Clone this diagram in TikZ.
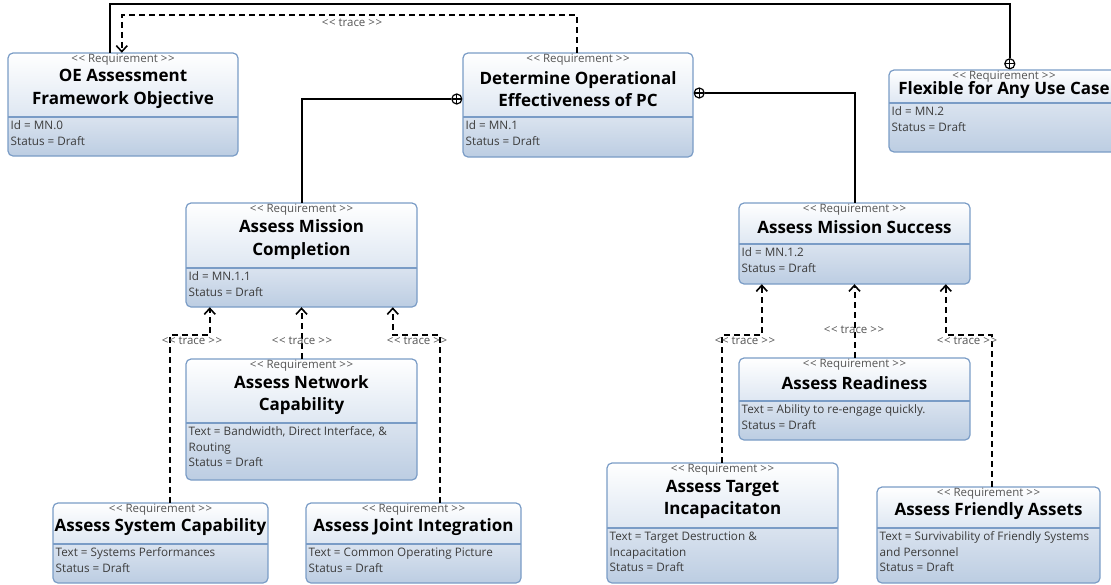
\documentclass[tikz,border=0pt]{standalone}
\usepackage{fontspec}
\setmainfont{Open Sans}
\usetikzlibrary{arrows.meta,fit,calc}
\definecolor{boxline}{RGB}{122,156,198}
\definecolor{hdrbot}{RGB}{222,231,242}
\definecolor{bodytop}{RGB}{218,227,239}
\definecolor{bodybot}{RGB}{188,205,226}
\definecolor{stereogray}{RGB}{85,85,85}
\definecolor{bodygray}{RGB}{60,60,60}
\tikzset{
  boxedge/.style={draw=boxline, line width=1.2pt},
  stereo/.style={font=\fontsize{11.5}{13}\selectfont, text=stereogray, inner sep=0pt},
  titletext/.style={font=\fontsize{17}{22.5}\selectfont\bfseries, text=black, align=center, inner sep=0pt},
  bodytext/.style={font=\fontsize{11.7}{15.8}\selectfont, text=bodygray, align=left, inner sep=0pt},
  tracelabel/.style={font=\fontsize{11.5}{13}\selectfont, text=stereogray, inner sep=0pt},
  contain/.style={draw=black, line width=2pt},
  traceline/.style={draw=black, line width=2pt, dash pattern=on 6pt off 4pt,
     -{Straight Barb[length=6pt,width=11pt,line width=1.6pt]}},
  plus/.style={draw=black, line width=1.2pt, circle, minimum size=10pt, inner sep=0pt, fill=white,
     path picture={\draw[line width=1.1pt] (path picture bounding box.north) -- (path picture bounding box.south)
        (path picture bounding box.west) -- (path picture bounding box.east);}}
}
\newcommand{\reqbox}[8]{%
  \begin{scope}
    \clip[rounded corners=5pt] (#2,#3) rectangle (#4,#6);
    \shade[top color=white, bottom color=hdrbot] (#2,#3) rectangle (#4,#5);
    \shade[top color=bodytop, bottom color=bodybot] (#2,#5) rectangle (#4,#6);
  \end{scope}
  \draw[boxedge] (#2,#5) -- (#4,#5);
  \draw[boxedge, rounded corners=5pt] (#2,#3) rectangle (#4,#6);
  \node[fit={(#2,#3) (#4,#6)}, inner sep=0pt] (#1) {};
  \node[stereo] at ({(#2+#4)/2},#3+6.5) {<{\kern0.6pt}< Requirement >{\kern0.6pt}>};
  \node[titletext] at ({(#2+#4)/2},{(#3+#5)/2+4}) {#7};
  \node[bodytext, anchor=north west] at (#2+2.5,#5+1) {\strut #8};
}
\begin{document}
\begin{tikzpicture}[x=1pt,y=-1pt]
\useasboundingbox (0,0) rectangle (1111,584);
\begin{scope}
\clip (0,0) rectangle (1111,584);
% boxes
\reqbox{A}{8}{53}{238}{117}{156}{OE Assessment\\Framework Objective}{Id = MN.0\\Status = Draft}
\reqbox{B}{463}{53}{693}{117}{157}{Determine Operational\\Effectiveness of PC}{Id = MN.1\\Status = Draft}
\reqbox{C}{889}{70}{1119}{103}{152}{Flexible for Any Use Case}{Id = MN.2\\Status = Draft}
\reqbox{D}{186}{203}{417}{268}{307}{Assess Mission\\Completion}{Id = MN.1.1\\Status = Draft}
\reqbox{E}{739}{203}{970}{244}{284}{Assess Mission Success}{Id = MN.1.2\\Status = Draft}
\reqbox{F}{739}{358}{970}{401}{440}{Assess Readiness}{Text = Ability to re-engage quickly.\\Status = Draft}
\reqbox{G}{186}{359}{417}{423}{480}{Assess Network\\Capability}{Text = Bandwidth, Direct Interface, \&\\Routing\\Status = Draft}
\reqbox{H}{53}{503}{268}{544}{583}{Assess System Capability}{Text = Systems Performances\\Status = Draft}
\reqbox{I}{306}{503}{521}{544}{583}{Assess Joint Integration}{Text = Common Operating Picture\\Status = Draft}
\reqbox{J}{607}{463}{838}{528}{583}{Assess Target\\Incapacitaton}{Text = Target Destruction \&\\Incapacitation\\Status = Draft}
\reqbox{K}{877}{487}{1100}{528}{583}{Assess Friendly Assets}{Text = Survivability of Friendly Systems\\and Personnel\\Status = Draft}

% containment markers
\node[plus] (pC) at ([xshift=121pt,yshift=6pt]C.north west) {};
\node[plus] (pBL) at ([xshift=-6pt,yshift=6pt]B.west) {};
\node[plus] (pBR) at ([xshift=6pt,yshift=12pt]B.east) {};

% containment lines
\draw[contain] ([xshift=102pt]A.north west) -- ++(0,-49) -| (pC.north);
\draw[contain] (D.north) |- (pBL.west);
\draw[contain] (pBR.east) -| (E.north);

% trace lines
\draw[traceline] ([xshift=114pt]B.north west) -- ++(0,-38) -| ([xshift=114pt]A.north west);
\draw[traceline] ([xshift=117pt]H.north west) -- ++(0,-168) -| ([xshift=24pt]D.south west);
\draw[traceline] (G.north) -- (D.south);
\draw[traceline] ([xshift=134pt]I.north west) -- ++(0,-168) -| ([xshift=207pt]D.south west);
\draw[traceline] ([xshift=115pt]J.north west) -- ++(0,-128) -| ([xshift=23pt]E.south west);
\draw[traceline] (F.north) -- (E.south);
\draw[traceline] ([xshift=115pt]K.north west) -- ++(0,-152) -| ([xshift=207pt]E.south west);

% trace labels
\node[tracelabel] (t0) at (352,23) {<{\kern0.6pt}< trace >{\kern0.6pt}>};
\node[tracelabel] (t1) at (192,341) {<{\kern0.6pt}< trace >{\kern0.6pt}>};
\node[tracelabel] (t2) at (302,341) {<{\kern0.6pt}< trace >{\kern0.6pt}>};
\node[tracelabel] (t3) at (417,341) {<{\kern0.6pt}< trace >{\kern0.6pt}>};
\node[tracelabel] (t4) at (745,341) {<{\kern0.6pt}< trace >{\kern0.6pt}>};
\node[tracelabel] (t5) at (854,330) {<{\kern0.6pt}< trace >{\kern0.6pt}>};
\node[tracelabel] (t6) at (967,341) {<{\kern0.6pt}< trace >{\kern0.6pt}>};
\end{scope}
\end{tikzpicture}
\end{document}
